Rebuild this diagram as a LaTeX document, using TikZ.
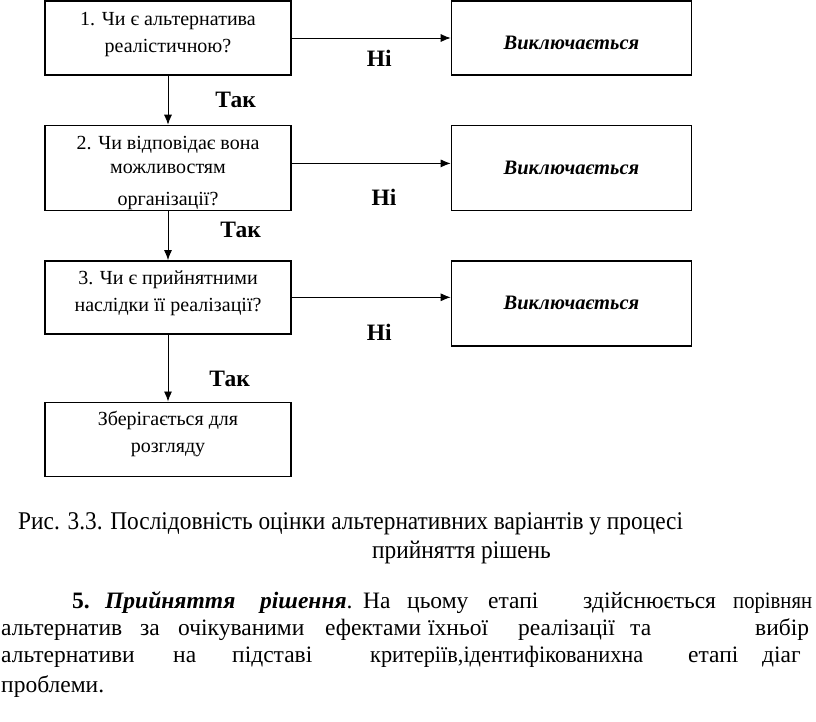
\documentclass[tikz,border=0pt]{standalone}
\usepackage{fontspec}
\usepackage{graphicx}
\setmainfont{Liberation Serif}
\newfontfamily\capfont[FakeStretch=0.915]{Liberation Serif}
\usetikzlibrary{positioning,arrows.meta}
% box text, moved up or down without changing the box
\newcommand{\boxtext}[2]{\raisebox{#1}[\height][\depth]{\begin{tabular}{@{}c@{}}#2\end{tabular}}}

\begin{document}
\begin{tikzpicture}[x=1pt,y=-1pt,>={Latex[length=10pt,width=8pt]},
    q/.style={draw,line width=1.4pt,inner ysep=0pt,minimum width=246pt,font=\fontsize{20}{27}\selectfont},
    ex/.style={draw,line width=1.4pt,minimum width=240pt,font=\fontsize{20.5}{24}\selectfont\bfseries\itshape},
    lab/.style={inner sep=0pt,font=\fontsize{23.5}{27}\selectfont\bfseries},
    txt/.style={inner sep=0pt,anchor=base west,font=\fontsize{23.5}{27}\selectfont}]
  \useasboundingbox (0,0) rectangle (816,721);
  % questions
  \node[q,minimum height=74pt] (q1) at (168,38) {\boxtext{4pt}{1. Чи є альтернатива\\реалістичною?}};
  \node[q,minimum height=85pt,below=49pt of q1] (q2) {\boxtext{-4.3pt}{2. Чи відповідає вона\\[-3.5pt]можливостям\\[5.5pt]організації?}};
  \node[q,minimum height=73pt,below=49pt of q2] (q3) {\boxtext{4.7pt}{3. Чи є прийнятними\\наслідки її реалізації?}};
  \node[q,minimum height=74pt,below=67pt of q3] (q4) {\boxtext{5.2pt}{Зберігається для\\розгляду}};
  % rejected
  \node[ex,minimum height=74pt,right=159pt of q1] (r1) {\boxtext{-7pt}{Виключається}};
  \node[ex,minimum height=85pt,right=159pt of q2] (r2) {Виключається};
  \node[ex,minimum height=85pt,anchor=north west] (r3) at ([xshift=159pt]q3.north east) {Виключається};
  % yes
  \draw[->,line width=0.9pt] (q1) -- node[lab,midway,right=47pt]{Так} (q2);
  \draw[->,line width=0.9pt] (q2) -- node[lab,pos=0.39,right=52pt]{Так} (q3);
  \draw[->,line width=0.9pt] (q3) -- node[lab,pos=0.67,right=41pt]{Так} (q4);
  % no
  \draw[->,line width=0.9pt] (q1.east) -- node[lab,pos=0.55,below=12pt]{Ні} (q1.east -| r1.west);
  \draw[->,line width=0.9pt] ([yshift=4.5pt]q2.east) -- node[lab,pos=0.58,below=25pt]{Ні} ([yshift=4.5pt]q2.east -| r2.west);
  \draw[->,line width=0.9pt] (q3.east) -- node[lab,pos=0.55,below=26pt]{Ні} (q3.east -| r3.west);
  % caption and text
  \node[txt,font=\capfont\fontsize{25.5}{28}\selectfont] (cap1) at (18,529) {Рис. 3.3. Послідовність оцінки альтернативних варіантів у процесі};
  \node[txt,font=\capfont\fontsize{25.5}{28}\selectfont] (cap2) at (372,558) {прийняття рішень};
  \foreach \x/\y/\w [count=\i] in {72/608/{\textbf{5.}}, 105/608/{\textbf{\textit{Прийняття}}}, 260/608/{\textbf{\textit{рішення}}.},
      363/608/{На}, 407/608/{цьому}, 488/608/{етапі}, 583/608/{здійснюється}, 733/608/{\scalebox{0.88}[1]{порівнян}},
      1/635/{альтернатив}, 140/635/{за}, 178/635/{очікуваними}, 325/635/{ефектами}, 428/635/{їхньої},
      518/635/{реалізації}, 630/635/{та}, 755/635/{вибір},
      1/662/{альтернативи}, 173/662/{на}, 232/662/{підставі}, 370/662/{\scalebox{0.95}[1]{критеріїв,ідентифікованихна}},
      688/662/{етапі}, 762/662/{діаг},
      1/692/{проблеми.}}
    \node[txt] (w\i) at (\x,\y) {\w};
\end{tikzpicture}
\end{document}
